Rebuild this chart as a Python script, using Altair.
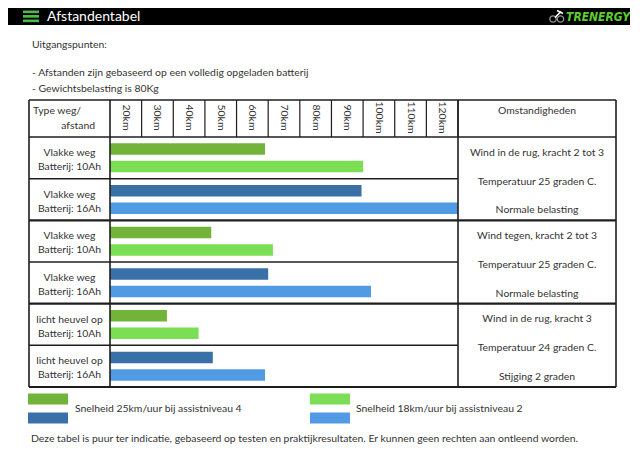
import altair as alt
import pandas as pd

# ---------------- data ----------------
row_ids = ["vlak10", "vlak16", "tegen10", "tegen16", "heuvel10", "heuvel16"]
row_line1 = ["Vlakke weg", "Vlakke weg", "Vlakke weg", "Vlakke weg", "licht heuvel op", "licht heuvel op"]
row_line2 = ["Batterij: 10Ah", "Batterij: 16Ah", "Batterij: 10Ah", "Batterij: 16Ah", "Batterij: 10Ah", "Batterij: 16Ah"]
battery = ["10Ah", "16Ah", "10Ah", "16Ah", "10Ah", "16Ah"]
km_25 = [59, 89.5, 42, 60, 28, 42.5]    # Snelheid 25km/uur bij assistniveau 4
km_18 = [90, 120, 61.5, 92.5, 38, 59]   # Snelheid 18km/uur bij assistniveau 2

tick_km = [20, 30, 40, 50, 60, 70, 80, 90, 100, 110, 120]
tick_labels = ["20km", "30km", "40km", "50km", "60km", "70km", "80km", "90km", "100km", "110km", "120km"]

group_anchor = ["vlak16", "tegen16", "heuvel16"]     # row at the middle of each group
group_start = ["tegen10", "heuvel10"]                # rows that start a new group
cond_line1 = ["Wind in de rug, kracht 2 tot 3", "Wind tegen, kracht 2 tot 3", "Wind in de rug, kracht 3"]
cond_line2 = ["Temperatuur 25 graden C.", "Temperatuur 25 graden C.", "Temperatuur 24 graden C."]
cond_line3 = ["Normale belasting", "Normale belasting", "Stijging 2 graden"]

series_keys = ["25|10Ah", "18|10Ah", "25|16Ah", "18|16Ah"]
series_colors = ["#72b43a", "#7cde54", "#3a70a8", "#519be4"]

title_text = "Afstandentabel"
logo_text = "TRENERGY"
intro_lines = ["Uitgangspunten:",
               "- Afstanden zijn gebaseerd op een volledig opgeladen batterij",
               "- Gewichtsbelasting is 80Kg"]
hdr_type = "Type weg/"
hdr_afstand = "afstand"
hdr_cond = "Omstandigheden"
legend_25 = "Snelheid 25km/uur bij assistniveau 4"
legend_18 = "Snelheid 18km/uur bij assistniveau 2"
footnote = ("Deze tabel is puur ter indicatie, gebaseerd op testen en praktijkresultaten. "
            "Er kunnen geen rechten aan ontleend worden.")

# ---------------- frames ----------------
bars = pd.DataFrame({
    "row": row_ids * 2,
    "speed": ["25"] * 6 + ["18"] * 6,
    "km": km_25 + km_18,
    "battery": battery * 2,
})
bars["series"] = bars["speed"] + "|" + bars["battery"]
rows_df = pd.DataFrame({"row": row_ids, "line1": row_line1, "line2": row_line2})
ticks_df = pd.DataFrame({"tick": tick_km, "label": tick_labels})
cond_df = pd.DataFrame({"row": group_anchor, "c1": cond_line1, "c2": cond_line2, "c3": cond_line3})
inner_sep = pd.DataFrame({"row": group_anchor})
group_sep = pd.DataFrame({"row": group_start})
one = pd.DataFrame({"_": [0]})

# ---------------- layout helpers ----------------
FONT = "Lato"
FS = 10.4
TXT = "#333333"
LINE = "#1e1e1e"
X0, Y0 = 110, 137          # page position of the plot origin
W, H = 348, 250


def px(v):
    return v - X0


def py(v):
    return v - Y0


x_scale = alt.Scale(domain=[10, 120], nice=False, zero=False)
y_scale = alt.Scale(domain=row_ids, paddingInner=0, paddingOuter=0)
off_scale = alt.Scale(domain=["25", "18"], paddingInner=0.343, paddingOuter=0.362)


def Yrow(**kw):
    return alt.Y("row:N", scale=y_scale, axis=None, **kw)


def vtext(text, x, y, size=FS, align="left", color=TXT, font=FONT, **kw):
    return alt.Chart(one).mark_text(text=text, align=align, baseline="middle", fontSize=size,
                                    font=font, color=color, **kw).encode(
        x=alt.value(x), y=alt.value(y))


def hrule(x1, x2, y, w=1.5, color=LINE):
    return alt.Chart(one).mark_rule(strokeWidth=w, color=color).encode(
        x=alt.value(x1), x2=alt.value(x2), y=alt.value(y))


def vrule(x, y1, y2, w=1.5, color=LINE):
    return alt.Chart(one).mark_rule(strokeWidth=w, color=color).encode(
        x=alt.value(x), y=alt.value(y1), y2=alt.value(y2))


def box(x1, x2, y1, y2, color):
    return alt.Chart(one).mark_rect(color=color).encode(
        x=alt.value(x1), x2=alt.value(x2), y=alt.value(y1), y2=alt.value(y2))


L, M, R, E = px(29), 0, W, px(616)
TOP = py(100)
layers = []

# header bar
layers.append(box(-102, 522, -129, py(25), "#000000"))
for y1 in [10.5, 15, 19.5]:
    layers.append(box(px(23), px(39), py(y1), py(y1 + 2.7), "#4cb848"))
layers.append(vtext(title_text, px(47), py(17.2), size=14, color="#ffffff"))
layers.append(vtext(logo_text, px(630), py(17), size=12, align="right", color="#5ccf2b",
                    fontStyle="italic", fontWeight="bold",
                    font="Liberation Sans Narrow, DejaVu Sans Condensed, DejaVu Sans"))
for wx in [553, 560.5]:
    layers.append(alt.Chart(one).mark_point(shape="circle", size=40, filled=False, color="#cfcfcf",
                                            strokeWidth=1.3).encode(x=alt.value(px(wx)), y=alt.value(py(19))))
layers.append(alt.Chart(one).mark_rule(color="#ffffff", strokeWidth=1.6).encode(
    x=alt.value(px(555)), x2=alt.value(px(561)), y=alt.value(py(17.5)), y2=alt.value(py(11.5))))
layers.append(alt.Chart(one).mark_rule(color="#ffffff", strokeWidth=1.4).encode(
    x=alt.value(px(557)), x2=alt.value(px(563)), y=alt.value(py(10.5)), y2=alt.value(py(13.5))))

# intro text
layers.append(vtext(intro_lines[0], px(32), py(45)))
layers.append(vtext(intro_lines[1], px(32), py(72.7)))
layers.append(vtext(intro_lines[2], px(32), py(89.3)))

# bars
layers.append(alt.Chart(bars).mark_bar(stroke=None).encode(
    x=alt.X("km:Q", scale=x_scale, axis=None),
    x2=alt.datum(10),
    y=Yrow(),
    yOffset=alt.YOffset("speed:N", scale=off_scale),
    color=alt.Color("series:N", scale=alt.Scale(domain=series_keys, range=series_colors), legend=None),
))

# table grid
layers.append(hrule(L, E, TOP))
layers.append(hrule(L, E, 0))
layers.append(hrule(L, E, H, w=2.2))
for xv in [L, M, R, E]:
    layers.append(vrule(xv, TOP, H, w=1.6))
layers.append(alt.Chart(ticks_df).mark_rule(strokeWidth=1.2, color=LINE).encode(
    x=alt.X("tick:Q", scale=x_scale, axis=None), y=alt.value(TOP), y2=alt.value(0)))
layers.append(alt.Chart(inner_sep).mark_rule(strokeWidth=1.5, color=LINE).encode(
    x=alt.value(L), x2=alt.value(R), y=Yrow(bandPosition=0)))
layers.append(alt.Chart(group_sep).mark_rule(strokeWidth=2.2, color=LINE).encode(
    x=alt.value(L), x2=alt.value(E), y=Yrow(bandPosition=0)))

# header texts
layers.append(vtext(hdr_type, px(33), py(111)))
layers.append(vtext(hdr_afstand, px(95), py(125.5), align="right"))
layers.append(vtext(hdr_cond, px(537), py(111), align="center"))
layers.append(alt.Chart(ticks_df).transform_calculate(center="datum.tick - 5").mark_text(
    angle=90, align="center", baseline="middle", fontSize=FS, font=FONT, color=TXT).encode(
    x=alt.X("center:Q", scale=x_scale, axis=None), y=alt.value(py(117.5)), text="label:N"))

# row labels
for field, dy in [("line1", -5), ("line2", 9)]:
    layers.append(alt.Chart(rows_df).mark_text(
        align="center", baseline="middle", fontSize=FS, font=FONT, color=TXT, dy=dy).encode(
        x=alt.value(px(69.5)), y=Yrow(), text=f"{field}:N"))

# conditions
for field, dy in [("c1", -26), ("c2", 3), ("c3", 31.5)]:
    layers.append(alt.Chart(cond_df).mark_text(
        align="center", baseline="middle", fontSize=FS, font=FONT, color=TXT, dy=dy).encode(
        x=alt.value(px(537)), y=Yrow(bandPosition=0), text=f"{field}:N"))

# legend
layers.append(box(px(28), px(68), py(393.5), py(404.5), series_colors[0]))
layers.append(box(px(28), px(68), py(412.5), py(423.5), series_colors[2]))
layers.append(box(px(310), px(350), py(393.5), py(404.5), series_colors[1]))
layers.append(box(px(310), px(350), py(412.5), py(423.5), series_colors[3]))
layers.append(vtext(legend_25, px(75), py(409)))
layers.append(vtext(legend_18, px(356), py(409)))
layers.append(vtext(footnote, px(31), py(438.5)))

chart = alt.layer(*layers).properties(
    width=W, height=H,
    padding={"left": 102, "top": 129, "right": 172, "bottom": 57},
    autosize=alt.AutoSizeParams(type="none"),
    background="#ffffff",
).configure_view(stroke=None)

chart.save("out.html", embed_options={"renderer": "svg", "actions": False})
